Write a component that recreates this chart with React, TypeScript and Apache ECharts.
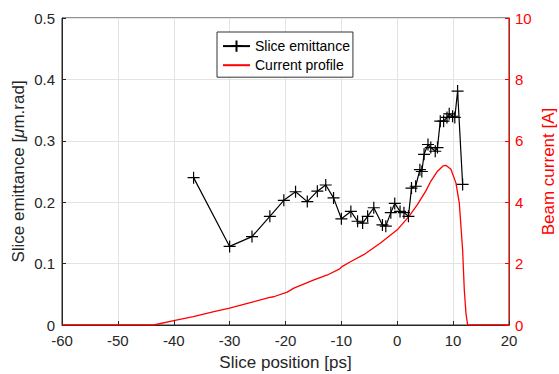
import React, { useEffect, useRef } from "react";
import * as echarts from "echarts";

const emitX = [-36.45, -30.0, -26.0, -22.8, -20.3, -18.2, -16.1, -14.3, -12.8, -11.4, -10.0, -8.3, -7.1, -6.2, -5.3, -4.2, -2.65, -2.05, -1.15, -0.45, 0.5, 1.2, 2.0, 2.55, 3.3, 4.05, 4.4, 4.8, 5.5, 6.0, 6.8, 7.2, 7.7, 8.3, 8.9, 9.3, 9.9, 10.3, 10.8, 11.7];
const emitY = [0.240, 0.128, 0.144, 0.177, 0.203, 0.217, 0.201, 0.218, 0.228, 0.207, 0.173, 0.185, 0.169, 0.166, 0.177, 0.191, 0.163, 0.161, 0.183, 0.198, 0.185, 0.183, 0.177, 0.223, 0.226, 0.253, 0.250, 0.278, 0.294, 0.289, 0.283, 0.289, 0.332, 0.332, 0.338, 0.344, 0.340, 0.338, 0.381, 0.229];

const curX = [-60, -43.6, -40, -36.5, -33, -30, -26.3, -23, -22.1, -19.7, -18.5, -14.9, -12.5, -10.3, -9.8, -8.3, -6, -3, 0, 2.1, 3.6, 5.1, 6, 7.2, 8.2, 8.7, 9.6, 10.5, 11.1, 11.7, 12, 12.3, 12.6, 20];
const curY = [0, 0, 0.14, 0.27, 0.43, 0.55, 0.73, 0.89, 0.92, 1.07, 1.2, 1.47, 1.63, 1.83, 1.91, 2.07, 2.29, 2.67, 3.1, 3.54, 3.92, 4.36, 4.68, 5.01, 5.18, 5.2, 5.07, 4.63, 3.98, 2.45, 1.14, 0.38, 0, 0];

const xTicks = { min: -60, max: 20, interval: 10 };
const leftTicks = { min: 0, max: 0.5, interval: 0.1 };
const rightTicks = { min: 0, max: 10, interval: 2 };

const FONT = "Arial, 'Liberation Sans', Helvetica, sans-serif";
const DARK = "#262626";
const RED = "#ff0000";
const GRID = "#e3e3e3";

export default function App() {
  const ref = useRef<HTMLDivElement>(null);
  useEffect(() => {
    if (!ref.current) return;
    const chart = echarts.init(ref.current, null, { renderer: "svg" });
    chart.setOption({
      animation: false,
      backgroundColor: "#ffffff",
      textStyle: { fontFamily: FONT },
      grid: {
        left: 62,
        right: 50,
        top: 18,
        bottom: 49,
        containLabel: false,
        outerBoundsMode: "none",
        show: true,
        borderColor: DARK,
        borderWidth: 1,
        backgroundColor: "transparent",
      },
      legend: {
        left: 217,
        top: 32,
        orient: "vertical",
        backgroundColor: "#ffffff",
        borderColor: "#333333",
        borderWidth: 1,
        borderRadius: 0,
        padding: [6, 3, 5, 5],
        itemGap: 4,
        itemWidth: 27,
        itemHeight: 14,
        textStyle: { fontFamily: FONT, fontSize: 14, color: "#000" },
        data: [
          { name: "Slice emittance" },
          { name: "Current profile", itemStyle: { opacity: 0 } },
        ],
      },
      xAxis: {
        type: "value",
        ...xTicks,
        name: "Slice position [ps]",
        nameLocation: "middle",
        nameGap: 29,
        nameMoveOverlap: false,
        nameTextStyle: { fontFamily: FONT, fontSize: 17, color: DARK },
        axisLine: { show: true, onZero: false, lineStyle: { color: DARK, width: 1 } },
        axisTick: { show: true, inside: true, length: 4, lineStyle: { color: DARK } },
        axisLabel: { fontFamily: FONT, fontSize: 15, color: DARK, margin: 8 },
        splitLine: { show: true, lineStyle: { color: GRID, width: 1 } },
      },
      yAxis: [
        {
          type: "value",
          ...leftTicks,
          position: "left",
          name: "Slice emittance [{i|μ}m.rad]",
          nameLocation: "middle",
          nameGap: 35,
          nameMoveOverlap: false,
          nameTextStyle: {
            fontFamily: FONT,
            fontSize: 17,
            color: DARK,
            rich: { i: { fontStyle: "italic", fontFamily: FONT, fontSize: 17, color: DARK } },
          },
          axisLine: { show: true, onZero: false, lineStyle: { color: DARK, width: 1 } },
          axisTick: { show: true, inside: true, length: 4, lineStyle: { color: DARK } },
          axisLabel: { fontFamily: FONT, fontSize: 15, color: DARK, margin: 7 },
          splitLine: { show: true, lineStyle: { color: GRID, width: 1 } },
        },
        {
          type: "value",
          ...rightTicks,
          position: "right",
          name: "Beam current [A]",
          nameLocation: "middle",
          nameGap: 31,
          nameRotate: 90,
          nameMoveOverlap: false,
          nameTextStyle: { fontFamily: FONT, fontSize: 17, color: RED },
          axisLine: { show: true, onZero: false, lineStyle: { color: RED, width: 1 } },
          axisTick: { show: true, inside: true, length: 4, lineStyle: { color: RED } },
          axisLabel: { fontFamily: FONT, fontSize: 15, color: RED, margin: 6 },
          splitLine: { show: false },
        },
      ],
      series: [
        {
          name: "Current profile",
          type: "line",
          yAxisIndex: 1,
          data: curX.map((x, i) => [x, curY[i]]),
          showSymbol: false,
          symbol: "none",
          lineStyle: { color: RED, width: 1.3 },
          itemStyle: { color: RED },
          z: 2,
        },
        {
          name: "Slice emittance",
          type: "line",
          yAxisIndex: 0,
          data: emitX.map((x, i) => [x, emitY[i]]),
          symbol: "path://M0,-10 L0,10 M-10,0 L10,0",
          symbolSize: 12,
          showSymbol: true,
          lineStyle: { color: "#000000", width: 1.2 },
          itemStyle: { color: "none", borderColor: "#000000", borderWidth: 1.2 },
          z: 3,
        },
      ],
    });
    return () => chart.dispose();
  }, []);
  return <div ref={ref} style={{ width: 559, height: 374, position: "absolute", left: 0, top: 0 }} />;
}
